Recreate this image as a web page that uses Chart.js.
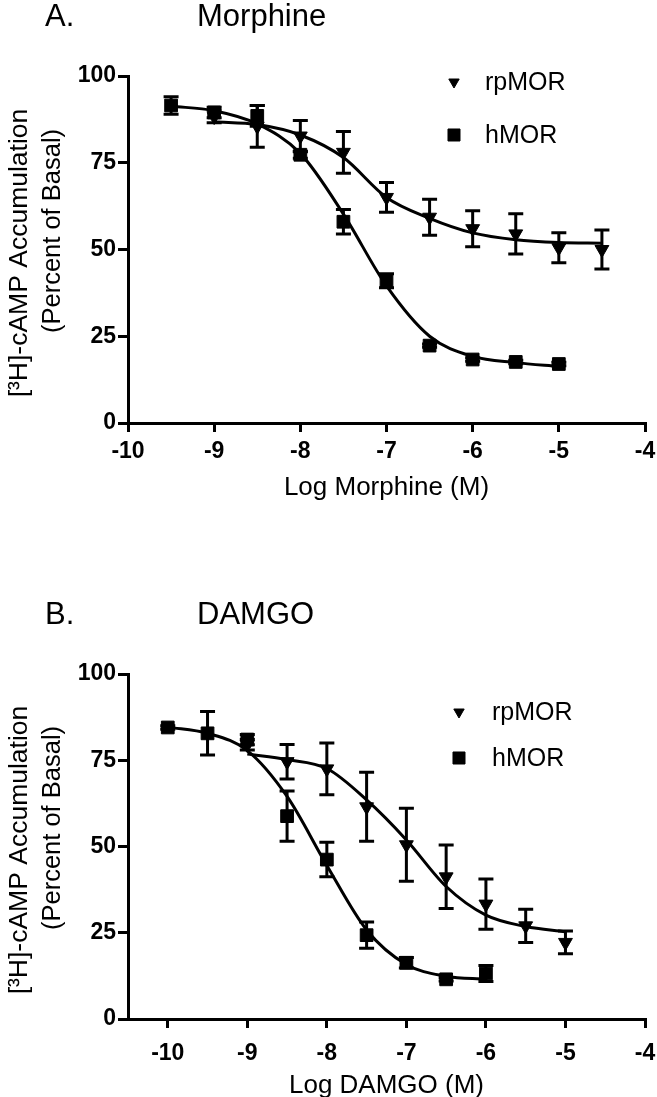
<!DOCTYPE html>
<html>
<head>
<meta charset="utf-8">
<script src="https://cdn.jsdelivr.net/npm/chart.js@4.4.1/dist/chart.umd.min.js"></script>
<style>
    body { margin: 0; background: #fff; width: 657px; height: 1097px; overflow: hidden; position: relative; font-family: "Liberation Sans", Arial, sans-serif; }
    .panel { position: absolute; left: 0; }
    .heading { position: absolute; font-size: 31px; line-height: 1; color: #000; white-space: nowrap; }
</style>
</head>
<body>
<div class="panel" style="top:0">
    <canvas id="chartA" width="657" height="598"></canvas>
</div>
<div class="panel" style="top:598px">
    <canvas id="chartB" width="657" height="506"></canvas>
</div>
<div class="heading" style="left:45px; top:0px">A.</div>
<div class="heading" style="left:197px; top:0px">Morphine</div>
<div class="heading" style="left:45px; top:598px">B.</div>
<div class="heading" style="left:197px; top:598px">DAMGO</div>

<script>
// Eixos
const yTicks = [0, 25, 50, 75, 100];
const xTicks = [-10, -9, -8, -7, -6, -5, -4];

// A. Morfina
const morphineDoseH = [-9.5, -9, -8.5, -8, -7.5, -7, -6.5, -6, -5.5, -5];
const morphineHMOR = [91.5, 89.5, 88.5, 77.3, 58, 41, 22.3, 18.3, 17.6, 17];
const morphineHMORSem = [2.5, 1.5, 3, 1, 3.5, 2, 0.5, 0.5, 0.5, 0.5];
const morphineHMORFit = [91.3, 90, 86.2, 77.7, 60.2, 39.5, 25, 19.2, 17.4, 16.3];

const morphineDoseRp = [-9, -8.5, -8, -7.5, -7, -6.5, -6, -5.5, -5, -4.5];
const morphineRpMOR = [88.3, 85.5, 82.7, 78, 65, 59.3, 56, 54.5, 50.5, 50];
const morphineRpMORSem = [1.8, 6, 4.5, 6, 4.3, 5.2, 5.2, 5.8, 4.3, 5.6];
const morphineRpMORFit = [86.8, 86, 83, 76.5, 65, 59, 54.8, 52.8, 52, 51.8];

// B. DAMGO
const damgoDoseH = [-10, -9.5, -9, -8.5, -8, -7.5, -7, -6.5, -6];
const damgoHMOR = [84.5, 82.8, 81, 58.8, 46.2, 24.3, 16.3, 11.5, 13.2];
const damgoHMORSem = [0.5, 6.3, 1.5, 7.3, 5, 3.8, 1.5, 0.5, 2.3];
const damgoHMORFit = [84.6, 82.8, 77.8, 64.5, 44.5, 25.8, 15.8, 12.4, 11.5];

const damgoDoseRp = [-9, -8.5, -8, -7.5, -7, -6.5, -6, -5.5, -5];
const damgoRpMOR = [79.5, 74.6, 72.5, 61.5, 50.5, 41.2, 33.3, 27, 22.2];
const damgoRpMORSem = [1.5, 5, 7.5, 10, 10.6, 9.2, 7.3, 4.8, 3.3];
const damgoRpMORFit = [76.8, 75.2, 72.6, 63.5, 51.9, 38.4, 30.1, 26.8, 25.3];

const toPoints = (xs, ys) => xs.map((x, i) => ({ x: x, y: ys[i] }));

// barras de erro (SEM)
const errorBarPlugin = {
    id: 'errorBars',
    afterDatasetsDraw(chart) {
        const { ctx, scales: { x, y } } = chart;
        chart.data.datasets.forEach(ds => {
            if (!ds.errors) return;
            ctx.save();
            ctx.strokeStyle = '#000';
            ctx.lineWidth = 3;
            ds.data.forEach((pt, i) => {
                const e = ds.errors[i];
                const px = x.getPixelForValue(pt.x);
                const top = y.getPixelForValue(pt.y + e);
                const bot = y.getPixelForValue(pt.y - e);
                ctx.beginPath();
                ctx.moveTo(px, top); ctx.lineTo(px, bot);
                ctx.moveTo(px - 7.5, top); ctx.lineTo(px + 7.5, top);
                ctx.moveTo(px - 7.5, bot); ctx.lineTo(px + 7.5, bot);
                ctx.stroke();
            });
            ctx.restore();
        });
    }
};

// titulo do eixo y em duas linhas
const yTitlePlugin = {
    id: 'yTitle',
    afterDraw(chart, args, opts) {
        const { ctx, chartArea } = chart;
        const mid = (chartArea.top + chartArea.bottom) / 2;
        ctx.save();
        ctx.fillStyle = '#000';
        ctx.textAlign = 'center';
        ctx.textBaseline = 'alphabetic';
        opts.lines.forEach(line => {
            ctx.save();
            ctx.font = line.size + 'px "Liberation Sans", Arial, sans-serif';
            ctx.translate(line.x, mid + line.dy);
            ctx.rotate(-Math.PI / 2);
            ctx.fillText(line.text, 0, 0);
            ctx.restore();
        });
        ctx.restore();
    }
};

// legenda com marcadores
const markerLegendPlugin = {
    id: 'markerLegend',
    afterDraw(chart, args, opts) {
        const { ctx, chartArea } = chart;
        ctx.save();
        ctx.fillStyle = '#000';
        ctx.strokeStyle = '#000';
        ctx.font = '25px "Liberation Sans", Arial, sans-serif';
        ctx.textBaseline = 'middle';
        opts.items.forEach(item => {
            const y = chartArea.top + item.dy;
            Chart.helpers.drawPoint(ctx, { pointStyle: item.style, radius: item.radius, rotation: item.rotation || 0, borderWidth: 1 }, opts.markerX, y);
            ctx.fillText(item.text, opts.textX, y + 1);
        });
        ctx.restore();
    }
};

const makePanel = (canvasId, cfg) => {
    const ctx = document.getElementById(canvasId).getContext('2d');
    return new Chart(ctx, {
        type: 'scatter',
        data: {
            datasets: [
                {
                    label: 'hMOR fit', data: cfg.hFit, showLine: true, borderColor: '#000', borderWidth: 3,
                    pointRadius: 0, cubicInterpolationMode: 'monotone', fill: false
                },
                {
                    label: 'rpMOR fit', data: cfg.rpFit, showLine: true, borderColor: '#000', borderWidth: 3,
                    pointRadius: 0, cubicInterpolationMode: 'monotone', fill: false
                },
                {
                    label: 'hMOR', data: cfg.h, errors: cfg.hSem, pointStyle: 'rect', pointRadius: 9,
                    backgroundColor: '#000', borderColor: '#000', borderWidth: 1
                },
                {
                    label: 'rpMOR', data: cfg.rp, errors: cfg.rpSem, pointStyle: 'triangle', pointRotation: 180,
                    pointRadius: 8, backgroundColor: '#000', borderColor: '#000', borderWidth: 1
                }
            ]
        },
        options: {
            responsive: false,
            animation: false,
            layout: { padding: { top: 76, right: 12, left: 0, bottom: cfg.padBottom } },
            plugins: {
                legend: { display: false },
                tooltip: { enabled: false },
                yTitle: {
                    lines: [
                        { text: '[³H]-cAMP Accumulation', x: 27, dy: 3.5, size: 26.5 },
                        { text: '(Percent of Basal)', x: 60, dy: -18.5, size: 25.5 }
                    ]
                },
                markerLegend: cfg.legend
            },
            scales: {
                x: {
                    type: 'linear',
                    min: cfg.xMin, max: -4,
                    afterBuildTicks: axis => { axis.ticks = xTicks.map(v => ({ value: v })); },
                    afterFit: axis => {
                        axis.height = cfg.xAxisHeight;
                        axis.paddingLeft = 0;
                        axis.paddingRight = 0;
                    },
                    border: { display: true, color: '#000', width: 3 },
                    grid: { display: true, drawOnChartArea: false, drawTicks: true, tickLength: 9, color: '#000', lineWidth: 3 },
                    ticks: { color: '#000', padding: cfg.xTickPad, font: { family: '"Liberation Sans", Arial, sans-serif', size: 23, weight: 'bold' } },
                    title: {
                        display: true, text: cfg.xTitle, color: '#000', padding: 0,
                        font: { family: '"Liberation Sans", Arial, sans-serif', size: 26, weight: 'normal' }
                    }
                },
                y: {
                    min: 0, max: 100,
                    afterBuildTicks: axis => { axis.ticks = yTicks.map(v => ({ value: v })); },
                    afterFit: axis => {
                        axis.width = 128;
                        axis.paddingTop = 0;
                        axis.paddingBottom = 0;
                    },
                    border: { display: true, color: '#000', width: 3 },
                    grid: { display: true, drawOnChartArea: false, drawTicks: true, tickLength: 10, color: '#000', lineWidth: 3 },
                    ticks: { color: '#000', padding: 2, font: { family: '"Liberation Sans", Arial, sans-serif', size: 23, weight: 'bold' } }
                }
            }
        },
        plugins: [errorBarPlugin, yTitlePlugin, markerLegendPlugin]
    });
};

makePanel('chartA', {
    xMin: -10,
    xTitle: 'Log Morphine (M)',
    xAxisHeight: 80,
    xTickPad: 6,
    padBottom: 95,
    h: toPoints(morphineDoseH, morphineHMOR),
    hSem: morphineHMORSem,
    hFit: toPoints(morphineDoseH, morphineHMORFit),
    rp: toPoints(morphineDoseRp, morphineRpMOR),
    rpSem: morphineRpMORSem,
    rpFit: toPoints(morphineDoseRp, morphineRpMORFit),
    legend: {
        markerX: 454, textX: 485,
        items: [
            { text: 'rpMOR', style: 'triangle', radius: 6, rotation: 180, dy: 6 },
            { text: 'hMOR', style: 'rect', radius: 8.5, dy: 59 }
        ]
    }
});

makePanel('chartB', {
    xMin: -10.5,
    xTitle: 'Log DAMGO (M)',
    xAxisHeight: 82,
    xTickPad: 12,
    padBottom: 3,
    h: toPoints(damgoDoseH, damgoHMOR),
    hSem: damgoHMORSem,
    hFit: toPoints(damgoDoseH, damgoHMORFit),
    rp: toPoints(damgoDoseRp, damgoRpMOR),
    rpSem: damgoRpMORSem,
    rpFit: toPoints(damgoDoseRp, damgoRpMORFit),
    legend: {
        markerX: 459, textX: 492,
        items: [
            { text: 'rpMOR', style: 'triangle', radius: 6, rotation: 180, dy: 38 },
            { text: 'hMOR', style: 'rect', radius: 8.5, dy: 84 }
        ]
    }
});
</script>
</body>
</html>
